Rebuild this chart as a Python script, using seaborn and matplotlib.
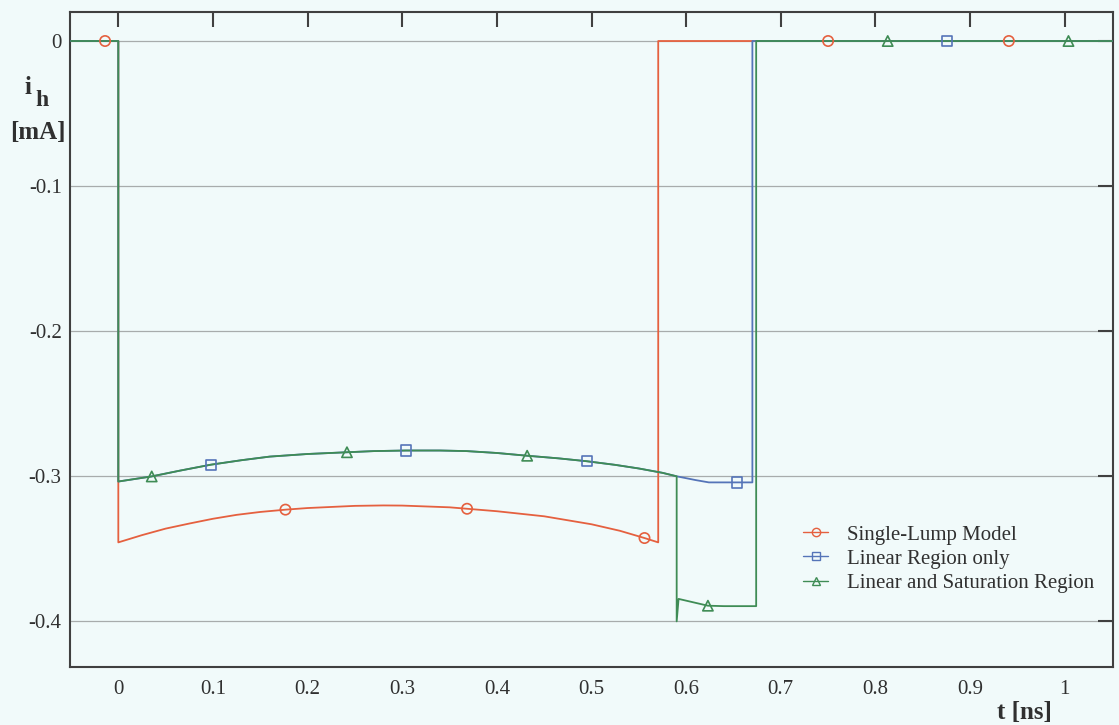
import matplotlib
matplotlib.use("Agg")
import matplotlib.pyplot as plt
import seaborn as sns
import pandas as pd
from matplotlib.lines import Line2D

# ---- data ----
t_red = [-0.05, 0.0, 0.0, 0.025, 0.05, 0.075, 0.1, 0.125, 0.15, 0.177, 0.2, 0.25, 0.28, 0.3,
         0.35, 0.3685, 0.4, 0.45, 0.5, 0.53, 0.556, 0.5705, 0.5705, 1.05]
i_red = [0, 0, -0.346, -0.341, -0.3365, -0.333, -0.3297, -0.327, -0.325, -0.3234, -0.3223, -0.3208,
         -0.3205, -0.3206, -0.3218, -0.3228, -0.3245, -0.328, -0.3335, -0.338, -0.343, -0.346, 0, 0]

t_blue = [-0.05, 0.0, 0.0, 0.035, 0.065, 0.0976, 0.13, 0.16, 0.2, 0.2416, 0.27, 0.304, 0.34, 0.368,
          0.40, 0.432, 0.465, 0.495, 0.525, 0.55, 0.575, 0.59, 0.61, 0.624, 0.670, 0.670, 1.05]
i_blue = [0, 0, -0.304, -0.3005, -0.2965, -0.2924, -0.2893, -0.2868, -0.2850, -0.2838, -0.2830,
          -0.2826, -0.2826, -0.2830, -0.2843, -0.2862, -0.2880, -0.2900, -0.2925, -0.2950, -0.2980,
          -0.3004, -0.3030, -0.3046, -0.3046, 0, 0]

t_green = [-0.05, 0.0, 0.0, 0.035, 0.065, 0.0976, 0.13, 0.16, 0.2, 0.2416, 0.27, 0.304, 0.34, 0.368,
           0.40, 0.432, 0.465, 0.495, 0.525, 0.55, 0.575, 0.59, 0.59, 0.592, 0.623, 0.64, 0.674, 0.674, 1.05]
i_green = [0, 0, -0.304, -0.3005, -0.2965, -0.2924, -0.2893, -0.2868, -0.2850, -0.2838, -0.2830,
           -0.2826, -0.2826, -0.2830, -0.2843, -0.2862, -0.2880, -0.2900, -0.2925, -0.2950, -0.2980,
           -0.3004, -0.4005, -0.385, -0.3897, -0.390, -0.390, 0, 0]

mk_t_red = [-0.014, 0.1766, 0.3685, 0.556, 0.750, 0.941]
mk_i_red = [0, -0.3234, -0.3228, -0.343, 0, 0]
mk_t_blue = [0.0976, 0.304, 0.495, 0.654, 0.876]
mk_i_blue = [-0.2924, -0.2826, -0.2900, -0.3046, 0]
mk_t_green = [0.0353, 0.2416, 0.432, 0.623, 0.813, 1.004]
mk_i_green = [-0.3005, -0.2838, -0.2862, -0.3897, 0, 0]

labels = ["Single-Lump Model", "Linear Region only", "Linear and Saturation Region"]
x_ticks = [0, 0.1, 0.2, 0.3, 0.4, 0.5, 0.6, 0.7, 0.8, 0.9, 1.0]
x_ticklabels = ["0", "0.1", "0.2", "0.3", "0.4", "0.5", "0.6", "0.7", "0.8", "0.9", "1"]
y_ticks = [0, -0.1, -0.2, -0.3, -0.4]
y_ticklabels = ["0", "-0.1", "-0.2", "-0.3", "-0.4"]

colors = ["#e5603f", "#5574b8", "#3f8c55"]
markers = ["o", "s", "^"]

sns.set_style("white")
plt.rcParams["font.family"] = ["Liberation Serif", "DejaVu Serif"]

bg = "#f1fafa"
fig = plt.figure(figsize=(11.19, 7.25), dpi=100, facecolor=bg)
ax = fig.add_axes([0.0626, 0.080, 0.9320, 0.9034])
ax.set_facecolor(bg)

for yv in y_ticks:
    ax.axhline(yv, color="#a8acac", lw=0.9, zorder=0)

series = [(t_red, i_red, mk_t_red, mk_i_red),
          (t_blue, i_blue, mk_t_blue, mk_i_blue),
          (t_green, i_green, mk_t_green, mk_i_green)]

for k, (tt, ii, mt, mi) in enumerate(series):
    df = pd.DataFrame({"t": tt, "i": ii})
    sns.lineplot(data=df, x="t", y="i", sort=False, estimator=None, ax=ax,
                 color=colors[k], lw=1.3, zorder=2 + k)
    dm = pd.DataFrame({"t": mt, "i": mi})
    sns.scatterplot(data=dm, x="t", y="i", ax=ax, marker=markers[k], s=55,
                    facecolors="none", edgecolor=colors[k], linewidth=1.2, zorder=5 + k)

ax.set_xlim(-0.051, 1.051)
ax.set_ylim(-0.432, 0.020)
ax.set_xticks(x_ticks)
ax.set_xticklabels(x_ticklabels)
ax.set_yticks(y_ticks)
ax.set_yticklabels(y_ticklabels)
ax.set_xlabel("")
ax.set_ylabel("")
ax.tick_params(axis="both", direction="in", length=11, width=1.5, color="#404040",
               labelsize=15, labelcolor="#303030", top=True, right=True, pad=9)
ax.tick_params(axis="y", pad=6)
for sp in ax.spines.values():
    sp.set_color("#404040")
    sp.set_linewidth(1.5)

handles = [Line2D([], [], color=colors[k], marker=markers[k], markerfacecolor="none",
                  markeredgecolor=colors[k], markersize=6, lw=1.0) for k in range(3)]
ax.legend(handles, labels, loc="center left", bbox_to_anchor=(0.703, 0.165), frameon=False,
          fontsize=15, handlelength=1.2, handletextpad=0.9, labelspacing=0.22,
          borderpad=0, borderaxespad=0, labelcolor="#303030")

fig.text(27.5 / 1119, 1 - 87 / 725, "i", fontsize=18, fontweight="bold", color="#303030",
         ha="center", va="center")
fig.text(41.5 / 1119, 1 - 100 / 725, "h", fontsize=17, fontweight="bold", color="#303030",
         ha="center", va="center")
fig.text(37.5 / 1119, 1 - 133 / 725, "[mA]", fontsize=18, fontweight="bold", color="#303030",
         ha="center", va="center")
fig.text(1024 / 1119, 1 - 712 / 725, "t [ns]", fontsize=18, fontweight="bold", color="#303030",
         ha="center", va="center")

fig.savefig("out.png", dpi=100, facecolor=bg)
